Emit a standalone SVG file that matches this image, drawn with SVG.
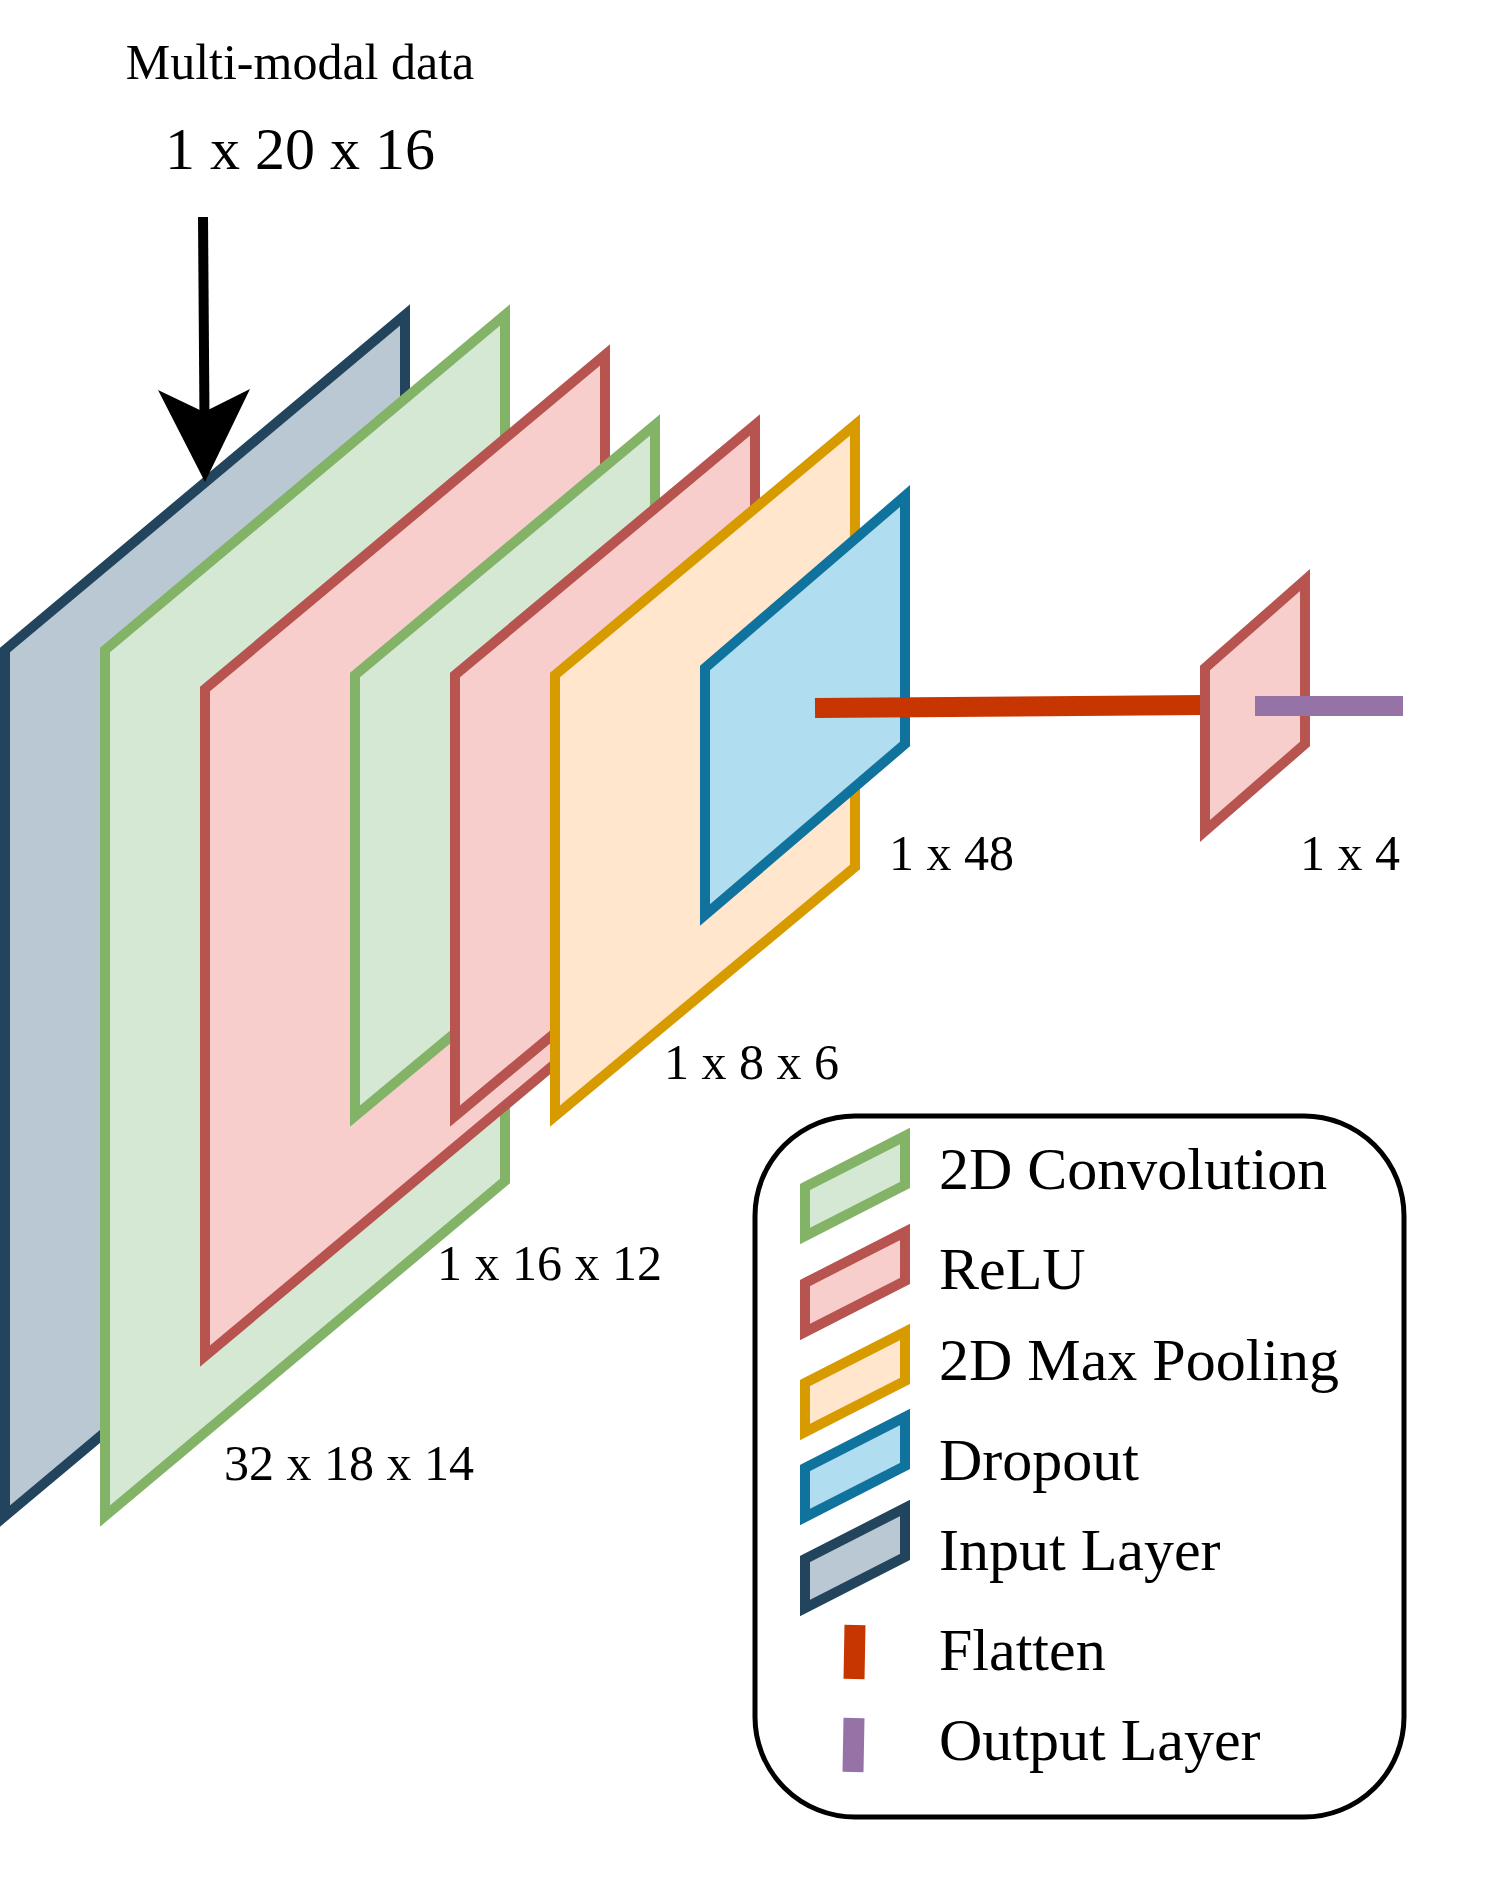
<svg xmlns="http://www.w3.org/2000/svg" width="1510" height="1900" viewBox="0 0 1510 1900">
<style>
text{font-family:"Liberation Serif","Times New Roman",serif;fill:#000}
.s{font-size:50px}.m{font-size:60px}
polygon{stroke-width:10;stroke-miterlimit:10}
.g{fill:#d5e8d4;stroke:#82b366}.r{fill:#f8cecc;stroke:#b85450}.o{fill:#ffe6cc;stroke:#d79b00}.b{fill:#b1ddf0;stroke:#10739e}.d{fill:#bac8d3;stroke:#23445d}
.fl{stroke:#c73500;fill:none}.ou{stroke:#9673a6;fill:none}
</style>
<rect width="1510" height="1900" fill="#fff"/>
<g id="layer-input"><polygon class="d" points="5,650 405,315 405,1181 5,1516"/></g>
<g id="layer-conv1"><polygon class="g" points="105,650 505,315 505,1181 105,1516"/></g>
<g id="layer-relu1"><polygon class="r" points="205,689 605,355 605,1022 205,1356"/></g>
<g id="layer-conv2"><polygon class="g" points="355,675 655,425 655,867 355,1116"/></g>
<g id="layer-relu2"><polygon class="r" points="455,675 755,425 755,867 455,1116"/></g>
<g id="layer-pool"><polygon class="o" points="555,675 855,425 855,867 555,1116"/></g>
<g id="layer-dropout"><polygon class="b" points="705,668 905,496 905,744 705,915"/></g>
<g id="connectors">
<path d="M203 217L204.500 420" stroke="#000" stroke-width="10" fill="none"/>
<path d="M158 390L204 412L250 389L205 482Z" fill="#000"/>
<path class="fl" stroke-width="20" d="M815 708L1206 705"/>
</g>
<g id="layer-output"><polygon class="r" points="1205,668 1305,580 1305,744 1205,831"/></g>
<g id="output-line"><path class="ou" stroke-width="20" d="M1255 706H1403"/></g>
<g id="labels">
<text x="300" y="79" class="s" text-anchor="middle">Multi-modal data</text>
<text x="300" y="169" class="m" text-anchor="middle">1 x 20 x 16</text>
<text x="889" y="870" class="s">1 x 48</text>
<text x="1300" y="870" class="s">1 x 4</text>
<text x="664" y="1079" class="s">1 x 8 x 6</text>
<text x="437" y="1280" class="s">1 x 16 x 12</text>
<text x="224" y="1480" class="s">32 x 18 x 14</text>
</g>
<g id="legend">
<rect x="755" y="1116" width="649" height="701" rx="100" ry="100" fill="#fff" stroke="#000" stroke-width="5"/>
<polygon class="g" points="805,1187 905,1136 905,1185 805,1236"/>
<polygon class="r" points="805,1283 905,1232 905,1281 805,1332"/>
<polygon class="o" points="805,1383 905,1332 905,1381 805,1432"/>
<polygon class="b" points="805,1468 905,1417 905,1466 805,1517"/>
<polygon class="d" points="805,1559 905,1508 905,1557 805,1608"/>
<path class="fl" stroke-width="21" d="M855 1625L854 1679"/>
<path class="ou" stroke-width="21" d="M854 1718L853 1772"/>
<text x="939" y="1189" class="m">2D Convolution</text>
<text x="939" y="1289" class="m">ReLU</text>
<text x="939" y="1380" class="m">2D Max Pooling</text>
<text x="939" y="1480" class="m">Dropout</text>
<text x="939" y="1570" class="m">Input Layer</text>
<text x="939" y="1670" class="m">Flatten</text>
<text x="939" y="1760" class="m">Output Layer</text>
</g>
</svg>
